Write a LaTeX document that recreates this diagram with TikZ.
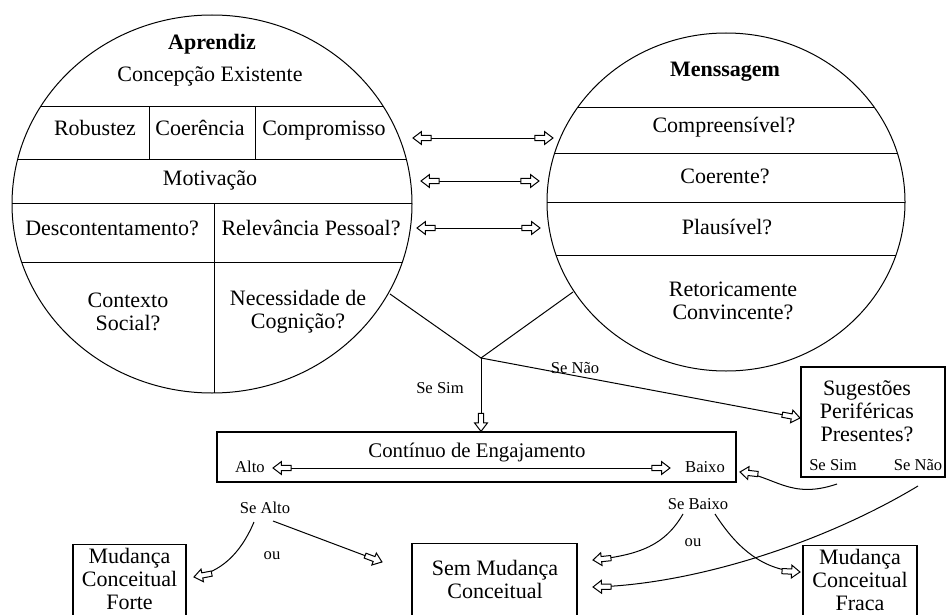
\documentclass[tikz,border=0pt]{standalone}
\usepackage{fontspec}
\setmainfont{Liberation Serif}
\usetikzlibrary{decorations.markings}

% hollow block arrow, tip at the origin, pointing along +x
\newcommand{\hollowtip}{\draw[fill=white,line width=0.5pt,line join=miter]
    (0,0) -- (-4.2pt,3.2pt) -- (-4.2pt,1.3pt) -- (-9pt,1.3pt)
    -- (-9pt,-1.3pt) -- (-4.2pt,-1.3pt) -- (-4.2pt,-3.2pt) -- cycle;}

\begin{document}
\begin{tikzpicture}[x=0.5pt,y=-0.5pt,line width=0.5pt,
    txt/.style={font=\fontsize{11}{11.5}\selectfont,align=center,inner sep=0pt},
    one/.style={text height=7.5pt,text depth=2.5pt},
    lbl/.style={font=\fontsize{8.3}{10}\selectfont,inner sep=0pt},
    box/.style={draw,line width=0.6pt,inner sep=0pt},
    toarrow/.style={postaction={decorate,decoration={markings,
        mark=at position 0.9999 with {\hollowtip}}}},
    fromarrow/.style={postaction={decorate,decoration={markings,
        mark=at position 0 with {\begin{scope}[rotate=180]\hollowtip\end{scope}}}}}]
    \useasboundingbox (0,0) rectangle (947,615);
    \clip (0,0) rectangle (947,615);

    % aprendiz
    \draw (212,204) ellipse [x radius=200, y radius=189];
    \begin{scope}
        \clip (212,204) ellipse [x radius=200, y radius=189];
        \draw (0,107) -- (430,107);
        \draw (0,159) -- (430,159);
        \draw (0,203) -- (430,203);
        \draw (0,262) -- (430,262);
        \draw (149,107) -- (149,159);
        \draw (255,107) -- (255,159);
        \draw (214,203) -- (214,400);
    \end{scope}
    \node[txt,one] (aprendiz) at (212,45) {\textbf{Aprendiz}};
    \node[txt,one] (concepcao) at (210,77) {Concepção Existente};
    \node[txt,one] (robustez) at (95,130) {Robustez};
    \node[txt,one] (coerencia) at (200,130) {Coerência};
    \node[txt,one] (compromisso) at (324,130) {Compromisso};
    \node[txt,one] (motivacao) at (210,180) {Motivação};
    \node[txt,one] (descontent) at (112,230) {Descontentamento?};
    \node[txt,one] (relevancia) at (311,230) {Relevância Pessoal?};
    \node[txt] (contexto) at (128,312) {Contexto\\Social?};
    \node[txt] (necessidade) at (298,312) {Necessidade de\\Cognição?};

    % menssagem
    \draw (726,202) ellipse [x radius=179, y radius=169];
    \begin{scope}
        \clip (726,202) ellipse [x radius=179, y radius=169];
        \draw (540,108) -- (910,108);
        \draw (540,153) -- (910,153);
        \draw (540,202) -- (910,202);
        \draw (540,255) -- (910,255);
    \end{scope}
    \node[txt,one] (menssagem) at (725,72) {\textbf{Menssagem}};
    \node[txt,one] (compreens) at (724,128) {Compreensível?};
    \node[txt,one] (coerente) at (725,178) {Coerente?};
    \node[txt,one] (plausivel) at (727,229) {Plausível?};
    \node[txt] (retorica) at (733,301) {Retoricamente\\Convincente?};

    \coordinate (l1) at (413,138); \coordinate (r1) at (553,138);
    \coordinate (l2) at (421,181); \coordinate (r2) at (539,181);
    \coordinate (l3) at (417,228); \coordinate (r3) at (540,228);
    \draw[toarrow,fromarrow] (l1) -- (r1);
    \draw[toarrow,fromarrow] (l2) -- (r2);
    \draw[toarrow,fromarrow] (l3) -- (r3);

    % boxes
    \node[box,minimum width=259.5pt,minimum height=25pt] (cont) at (476.5,457) {};
    \node[txt,one,font=\fontsize{10.4}{12}\selectfont] (conttitle) at (477,452) {Contínuo de Engajamento};
    \node[lbl] (alto) at (250,467) {Alto};
    \node[lbl] (baixo) at (705,467) {Baixo};
    \coordinate (altotip) at (273,468);
    \coordinate (baixotip) at (670,468);
    \draw[toarrow,fromarrow] (altotip) -- (baixotip);

    \node[box,minimum width=72pt,minimum height=55pt] (sug) at (873,422) {};
    \node[txt] (sugtxt) at (867,411.5) {Sugestões\\Periféricas\\Presentes?};
    \node[lbl] (sugsim) at (833,465) {Se Sim};
    \node[lbl] (sugnao) at (918,465) {Se Não};

    \node[box,minimum width=56.5pt,minimum height=50pt,anchor=north] (forte) at (129.5,544) {};
    \node[txt] (fortetxt) at (129.5,579) {Mudança\\Conceitual\\Forte};
    \node[box,minimum width=82.5pt,minimum height=50pt,anchor=north] (sem) at (494.5,543) {};
    \node[txt] (semtxt) at (495,579) {Sem Mudança\\Conceitual};
    \node[box,minimum width=57pt,minimum height=50pt,anchor=north] (fraca) at (860,545) {};
    \node[txt] (fracatxt) at (860,580) {Mudança\\Conceitual\\Fraca};

    % decisao
    \coordinate (lj) at (390,294);
    \coordinate (rj) at (573,292);
    \coordinate (jn) at (481,358);
    \draw (lj) -- (jn) -- (rj);
    \draw[toarrow] (jn) -- (jn |- cont.north);
    \draw[toarrow] (jn) -- (800,418);
    \node[lbl] (sesim) at (440,388) {Se Sim};
    \node[lbl] (senao) at (575,368) {Se Não};

    \coordinate (sugsimend) at (837,484);
    \coordinate (sugnaoend) at (918,486);
    \draw[toarrow] (sugsimend) .. controls (790,500) and (775,476) .. (740,472);
    \draw[toarrow] (sugnaoend) .. controls (820,545) and (690,585) .. (593,587);

    \node[lbl] (sebaixo) at (698,504) {Se Baixo};
    \node[lbl] (oub) at (693,543) {ou};
    \coordinate (sbl) at (683,514);
    \coordinate (sbr) at (715,514);
    \draw[toarrow] (sbl) .. controls (665,545) and (640,555) .. (593,560);
    \draw[toarrow] (sbr) .. controls (735,545) and (760,570) .. (800,572);

    \node[lbl] (sealto) at (265,508) {Se Alto};
    \node[lbl] (oua) at (272,556) {ou};
    \coordinate (sal) at (254,522);
    \coordinate (sar) at (273,521);
    \draw[toarrow] (sal) .. controls (240,555) and (220,572) .. (194,577);
    \draw[toarrow] (sar) -- (382,562);
\end{tikzpicture}
\end{document}
